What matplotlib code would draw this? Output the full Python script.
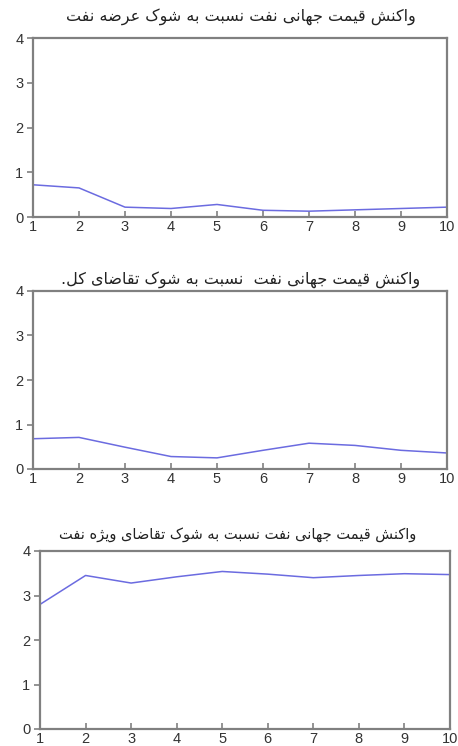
import numpy as np
import matplotlib
matplotlib.use("Agg")
import matplotlib.pyplot as plt

# horizons and responses
periods = [1, 2, 3, 4, 5, 6, 7, 8, 9, 10]
supply_shock = [0.72, 0.65, 0.22, 0.19, 0.28, 0.15, 0.13, 0.16, 0.19, 0.22]
demand_shock = [0.68, 0.71, 0.49, 0.28, 0.25, 0.42, 0.58, 0.53, 0.42, 0.36]
oil_demand_shock = [2.80, 3.45, 3.28, 3.42, 3.54, 3.48, 3.40, 3.45, 3.49, 3.47]

titles = [
    "واکنش قیمت جهانی نفت نسبت به شوک عرضه نفت",
    "واکنش قیمت جهانی نفت  نسبت به شوک تقاضای کل.",
    "واکنش قیمت جهانی نفت نسبت به شوک تقاضای ویژه نفت",
]
yticks = [0, 1, 2, 3, 4]


# minimal Persian shaping: (isolated, final, initial, medial); None => joins right only
FORMS = {
    "ا": ("\uFE8D", "\uFE8E", None, None),
    "ب": ("\uFE8F", "\uFE90", "\uFE91", "\uFE92"),
    "ت": ("\uFE95", "\uFE96", "\uFE97", "\uFE98"),
    "ج": ("\uFE9D", "\uFE9E", "\uFE9F", "\uFEA0"),
    "ر": ("\uFEAD", "\uFEAE", None, None),
    "ژ": ("\uFB8A", "\uFB8B", None, None),
    "س": ("\uFEB1", "\uFEB2", "\uFEB3", "\uFEB4"),
    "ش": ("\uFEB5", "\uFEB6", "\uFEB7", "\uFEB8"),
    "ض": ("\uFEBD", "\uFEBE", "\uFEBF", "\uFEC0"),
    "ع": ("\uFEC9", "\uFECA", "\uFECB", "\uFECC"),
    "ف": ("\uFED1", "\uFED2", "\uFED3", "\uFED4"),
    "ق": ("\uFED5", "\uFED6", "\uFED7", "\uFED8"),
    "ک": ("\uFB8E", "\uFB8F", "\uFB90", "\uFB91"),
    "ل": ("\uFEDD", "\uFEDE", "\uFEDF", "\uFEE0"),
    "م": ("\uFEE1", "\uFEE2", "\uFEE3", "\uFEE4"),
    "ن": ("\uFEE5", "\uFEE6", "\uFEE7", "\uFEE8"),
    "ه": ("\uFEE9", "\uFEEA", "\uFEEB", "\uFEEC"),
    "و": ("\uFEED", "\uFEEE", None, None),
    "ی": ("\uFBFC", "\uFBFD", "\uFBFE", "\uFBFF"),
}


def shape(text):
    out = []
    n = len(text)
    for i, ch in enumerate(text):
        if ch not in FORMS:
            out.append(ch)
            continue
        prev = text[i - 1] if i > 0 else ""
        nxt = text[i + 1] if i < n - 1 else ""
        join_prev = prev in FORMS and FORMS[prev][2] is not None
        join_next = nxt in FORMS and FORMS[ch][2] is not None
        iso, fin, ini, med = FORMS[ch]
        if join_prev and join_next:
            out.append(med)
        elif join_prev:
            out.append(fin)
        elif join_next:
            out.append(ini)
        else:
            out.append(iso)
    # visual order is right-to-left
    return "".join(out)[::-1]


LINE = "#6b6be0"
SPINE = "#808080"

fig = plt.figure(figsize=(4.58, 7.46), dpi=100)

W, H = 458.0, 746.0
# axes boxes in pixels: left, top, right, bottom
boxes = [(33, 38, 447, 217), (33, 291, 447, 469), (40, 551, 450, 729)]
title_y = [17, 280, 535]
title_x = [241, 241, 238]
title_size = [11.5, 11.5, 10.5]
series = [supply_shock, demand_shock, oil_demand_shock]

for k in range(3):
    l, t, r, b = boxes[k]
    ax = fig.add_axes([l / W, 1 - b / H, (r - l) / W, (b - t) / H])
    ax.plot(periods, series[k], color=LINE, lw=1.1)
    ax.set_xlim(1, 10)
    ax.set_ylim(0, 4)
    ax.set_xticks(periods)
    ax.set_yticks(yticks)
    for sp in ax.spines.values():
        sp.set_color(SPINE)
        sp.set_linewidth(1.6)
    ax.tick_params(axis="x", direction="in", length=4, width=1.2, color=SPINE,
                   labelsize=10.5, pad=2, labelcolor="#333333")
    ax.tick_params(axis="y", direction="out", length=4, width=1.2, color=SPINE,
                   labelsize=10.5, pad=3, labelcolor="#333333")
    for lab in ax.get_xticklabels() + ax.get_yticklabels():
        lab.set_family("Liberation Sans")
    fig.text(title_x[k] / W, 1 - title_y[k] / H, shape(titles[k]),
             ha="center", va="center", fontsize=title_size[k], color="#222222",
             family=["DejaVu Sans"])

fig.savefig("out.png", dpi=100)
